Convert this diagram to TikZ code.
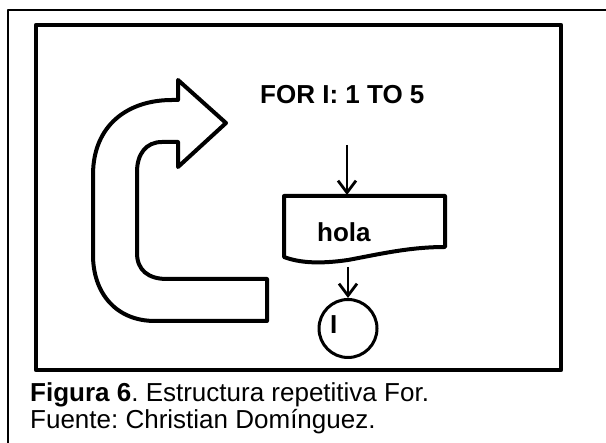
\documentclass[tikz,border=0pt]{standalone}
\usepackage{fontspec}
\setmainfont{Liberation Sans}
\usepackage{tikz}
\usetikzlibrary{positioning}
\usetikzlibrary{arrows.meta}
\frenchspacing

\begin{document}
\begin{tikzpicture}[x = 1pt, y = -1pt, line join = round,
                    page/.style  = {line width = 1.2pt},
                    panel/.style = {line width = 4.5pt},
                    outline/.style = {line width = 4pt},
                    flow/.style  = {-{Straight Barb[length = 12pt, width = 18pt]},
                                    line width = 2.8pt},
                    big/.style   = {font = \fontsize{26}{30}\selectfont\bfseries,
                                    inner sep = 0pt},
                    iter/.style  = {circle,
                                    draw,
                                    line width = 3pt,
                                    minimum size = 58pt,
                                    inner sep = 0pt},
                    capt/.style  = {font = \fontsize{26}{30}\selectfont,
                                    inner sep = 0pt}]

\useasboundingbox (0,0) rectangle (606,443);

\draw[page] (606,10) -- (8,10) -- (8,443);
\draw[panel] (36,25) rectangle (561,370);

\draw[outline] (267,321) -- (155,321)
    .. controls (116,321) and (93,293) .. (93,255) -- (93,175)
    .. controls (93,125) and (128,100) .. (172,100) -- (178,100)
    -- (178,80) -- (226,123) -- (178,167) -- (178,142) -- (162,142)
    .. controls (146,142) and (137,154) .. (137,172) -- (137,253)
    .. controls (137,270) and (148,279) .. (167,279) -- (267,279) -- cycle;

\node[big, anchor = base west] (for) at (260,104) {FOR I: 1 TO 5};

\draw[outline] (284,196) -- (445,196) -- (445,247)
    .. controls (410,247) and (380,254) .. (348,260)
    .. controls (320,264) and (300,263) .. (284,257) -- cycle;
\node[big, anchor = base west] (hola) at (317,242) {hola};

\coordinate (start)  at (347,145);
\coordinate (boxtop) at (347,195);
\coordinate (boxbot) at (348,267);

\node[iter, below = 31pt of boxbot] (loop) {};
\node[big, anchor = base west] (var) at (330,334) {I};

\path (start) edge [flow] (boxtop);
\path (boxbot) edge [flow] (loop);

\node[capt, anchor = base west] (cap1) at (30,402)
    {\textbf{Figura 6}. Estructura repetitiva For.};
\node[capt, anchor = base west] (cap2) at (30,429)
    {Fuente: Christian Domínguez.};

\end{tikzpicture}
\end{document}
